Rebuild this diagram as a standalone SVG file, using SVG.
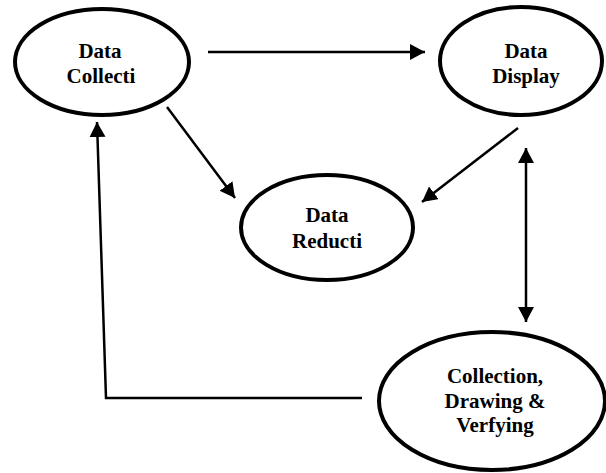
<svg xmlns="http://www.w3.org/2000/svg" width="606" height="473" viewBox="0 0 606 473">
<style>
.node ellipse{fill:#fff;stroke:#000;stroke-width:4}
.node text{font-family:'Liberation Serif','Times New Roman','DejaVu Serif',serif;font-weight:700;font-size:21px;text-anchor:middle;fill:#000}
.conn{fill:none;stroke:#000;stroke-width:2.5}
</style>
<defs>
<marker id="ah" markerUnits="userSpaceOnUse" markerWidth="16" markerHeight="17" refX="15" refY="8" orient="auto-start-reverse" viewBox="0 0 16 17">
<path d="M0,0 L15,8 L0,16 z" fill="#000"/>
</marker>
</defs>
<rect width="606" height="473" fill="#fff"/>
<g id="connectors">
<line class="conn" x1="208" y1="52" x2="425" y2="52" marker-end="url(#ah)"/>
<line class="conn" x1="167" y1="107" x2="235" y2="198" marker-end="url(#ah)"/>
<line class="conn" x1="518" y1="128" x2="422" y2="202" marker-end="url(#ah)"/>
<line class="conn" x1="526" y1="148" x2="526" y2="322" marker-start="url(#ah)" marker-end="url(#ah)"/>
<polyline class="conn" points="362,398 106,398 97,122" marker-end="url(#ah)"/>
</g>
<g id="data-collection" class="node">
<ellipse cx="102" cy="62" rx="87" ry="53"/>
<text x="100" y="58" font-family="Liberation Serif, serif">Data</text>
<text x="101" y="83" font-family="Liberation Serif, serif">Collecti</text>
</g>
<g id="data-display" class="node">
<ellipse cx="521" cy="61" rx="81" ry="54"/>
<text x="526" y="58">Data</text>
<text x="526" y="83">Display</text>
</g>
<g id="data-reduction" class="node">
<ellipse cx="327" cy="227.5" rx="86" ry="52.5"/>
<text x="327" y="222">Data</text>
<text x="327" y="248">Reducti</text>
</g>
<g id="collection-drawing-verifying" class="node">
<ellipse cx="492" cy="401" rx="113" ry="69"/>
<text x="495" y="383">Collection,</text>
<text x="495" y="408">Drawing &amp;</text>
<text x="495" y="432">Verfying</text>
</g>
</svg>
